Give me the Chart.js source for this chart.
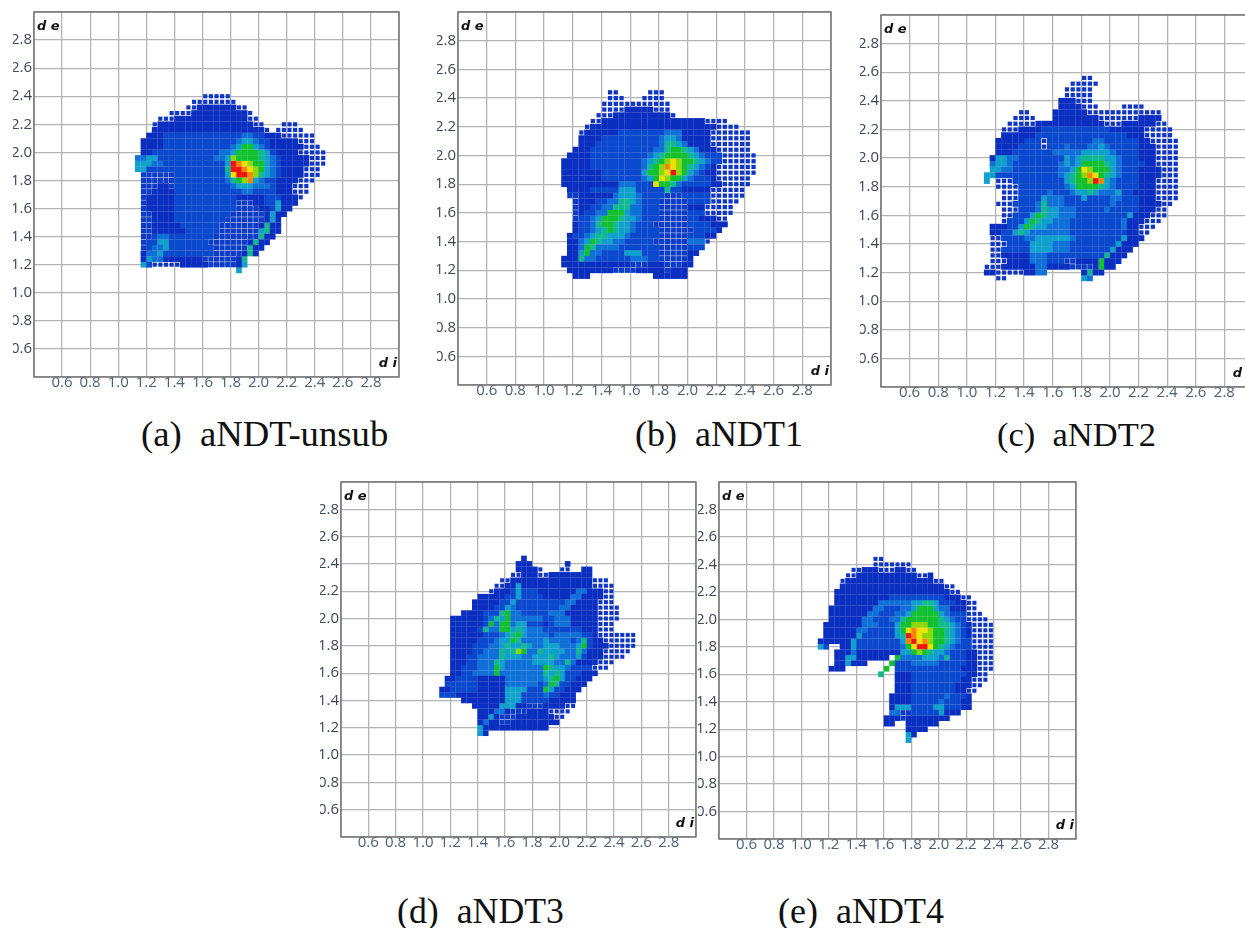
<!DOCTYPE html>
<html>
<head>
<meta charset="utf-8">
<script src="https://cdn.jsdelivr.net/npm/chart.js@4/dist/chart.umd.min.js"></script>
<style>
html,body{margin:0;padding:0;background:#fff;width:1245px;height:928px;overflow:hidden}
canvas{position:absolute;display:block}
.cap{position:absolute;font-family:"Liberation Serif",serif;line-height:40px;color:#111;white-space:pre}
</style>
</head>
<body>
<script>
// Tick labels on both axes
const tickLabels = ["0.6","0.8","1.0","1.2","1.4","1.6","1.8","2.0","2.2","2.4","2.6","2.8"];
const captions = ["(a)  aNDT-unsub","(b)  aNDT1","(c)  aNDT2","(d)  aNDT3","(e)  aNDT4"];
// Density bins. Bin column c = di 1.10 + 0.04c, row index r = de 2.56 - 0.04r.
// Each row: first column, then runs of <level><count>; s = sparse edge, w = speckled interior, . = empty.
const aNDTunsub = ["","","","","13 s5","11 s8","10 s2 07 s2","7 s4 010 s1","5 s3 013 s2","4 s1 017 s2 .3 s3","4 020 s1 .1 s5",
"3 03 114 22 12 03 s6","2 04 113 21 32 21 12 05 s3","2 04 112 21 31 52 31 21 11 06 s3","2 02 112 22 31 54 41 31 11 04 s5",
"1 22 32 110 22 31 61 54 41 31 21 11 05 s3","1 33 22 111 31 91 81 71 61 52 31 21 11 05 s3","1 32 12 112 41 92 81 71 61 51 31 21 11 04 s3",
"2 w6 19 31 71 92 81 61 41 31 21 11 04 s3","2 w6 19 21 41 51 61 81 31 21 12 04 s3","2 w3 02 w1 110 21 33 23 11 03 s3","2 w2 04 112 22 14 03 s3",
"2 w1 05 111 05 13 03 s1","2 w1 05 111 w3 02 12 31 03","2 w1 05 111 w4 02 11 31 02","2 w2 04 110 w6 01 31 02","2 w2 04 19 w7 01 31 01",
"2 w2 05 17 w7 01 41 02","2 w2 06 16 w7 31 41 02","2 w2 11 22 18 w8 41 02","2 w1 12 32 17 w7 01 41 02","2 w1 11 22 31 18 w6 41 02",
"2 01 22 31 19 w5 01 41 01","2 01 31 22 07 w6 01 41","2 31 11 s5 05 w5 01 31","19 31"];
const aNDT1 = ["","","","9 s2 .5 s3","9 s3 .3 s4","8 s12","8 s4 05 s3","7 s3 010 s1","6 s2 018 s4","5 s1 022 s4","4 s1 06 18 23 05 s7",
"4 04 110 21 32 21 05 s7","4 03 111 21 42 31 21 04 s7","3 03 111 22 41 52 41 31 21 03 s6","2 04 110 21 31 41 54 41 31 21 13 s6",
"1 05 19 21 31 41 51 61 71 61 52 41 31 21 12 s6","1 05 19 21 41 51 61 81 71 61 51 41 31 21 11 01 s7","1 07 17 31 52 61 71 91 61 51 31 21 11 02 s7",
"1 07 17 21 31 51 71 61 52 31 21 13 01 s6","1 010 23 13 71 52 41 21 15 02 s5","2 04 15 33 15 41 12 05 s6","2 w2 06 21 33 21 14 w3 15 s6",
"3 w1 03 12 22 42 31 21 13 w5 14 s5","3 w1 02 12 22 43 22 13 w5 03 s5","3 w1 01 12 22 53 31 22 13 w5 13 s5","3 w1 12 21 31 53 41 32 21 13 w5 12 03 s2",
"3 01 12 21 41 52 41 32 21 13 w6 14 03","3 01 12 21 31 41 51 41 32 21 14 w6 14 01","2 01 12 21 31 42 33 21 15 w5 13 02","2 02 21 31 51 41 32 22 15 w6 23 s1",
"2 02 21 51 41 24 17 w5 13","2 02 31 51 22 14 33 13 w5 02","1 03 41 22 16 23 12 w5 01","1 012 w3 03 w3 02","2 08 w4 05 w1 03","3 03 .11 06"];
const aNDT2 = ["18 s2","16 s5","15 s5","15 s5","14 03 s3","14 04 s3 .4 s4","7 s2 .4 06 s13","6 s4 .3 08 s7 04","5 s5 012 s3 06 s2","4 s3 04 112 06 s5","4 06 116 03 s5",
"3 05 13 s1 18 22 16 02 s5","3 04 14 s1 13 21 13 22 31 21 15 03 s4","3 03 17 25 35 21 14 03 s4","2 01 32 22 18 31 21 31 44 32 21 13 03 s4",
"2 21 32 21 18 21 31 21 31 54 41 31 21 14 02 s4","2 32 22 18 22 31 51 71 61 53 31 21 13 04 s3","1 32 111 21 31 41 51 61 81 71 51 41 31 21 13 04 s3",
"1 31 .1 s3 19 31 41 52 61 91 81 31 21 14 03 s4","3 s4 18 21 31 54 41 31 21 14 03 s4","4 s3 15 21 13 21 32 41 31 23 31 12 04 s4",
"4 s3 14 31 23 13 31 14 22 13 03 s4","3 s3 14 21 41 23 18 21 14 04 s2","4 s3 13 21 41 32 23 15 21 15 03 s2","4 s2 13 31 51 41 32 23 19 31 03 s3",
"4 s1 13 31 51 41 32 23 19 21 03 s3","2 03 12 31 51 41 32 24 19 21 02 s3","2 02 12 31 41 31 27 110 02 s2","2 s2 14 22 36 21 18 31 03","2 s3 14 34 23 18 31 03",
"2 s2 15 34 23 17 31 03","2 s2 05 23 14 16 41 03","2 s3 04 23 13 w2 04 51 03","1 s3 06 22 04 w4 01 51 02","1 02 s5 02 22 .6 01 41 02","3 s2 .13 31 21"];
const aNDT3 = ["","","","16 01","15 03 .6 01","15 04 s1 .3 s2 .2 02","14 s2 03 s2 08","12 s2 015 s3","11 s2 02 31 013 s4","10 s1 03 11 31 13 07 22 03 s2",
"8 05 12 31 14 05 22 04 s2","7 05 12 31 19 22 04 s3","7 04 12 31 21 18 22 05 s4","5 04 13 41 51 22 15 23 06 s4","3 06 11 21 41 31 51 26 12 23 05 s4",
"3 06 11 51 21 52 21 32 13 01 11 23 05 s3","3 05 11 41 22 52 31 41 31 23 17 03 s3","3 06 13 21 31 41 51 31 24 11 25 12 01 s7",
"3 05 13 21 32 51 41 24 31 24 11 21 41 11 02 s6","3 04 13 22 31 41 32 41 31 22 33 23 31 51 11 03 s5","3 04 12 23 41 31 41 61 51 22 41 34 22 41 21 03 s5",
"3 03 12 24 41 33 22 33 41 31 23 31 11 03 s4","3 03 12 23 41 31 25 34 22 41 21 04 s3","3 02 13 23 51 31 27 51 41 32 21 14 s3","3 02 12 24 51 28 41 31 41 31 13 03",
"2 02 14 05 27 31 41 51 31 12 03","2 16 05 26 11 21 51 41 12 03","1 02 15 05 34 13 51 31 12 03","1 13 09 33 14 21 12 03","5 08 33 15 05","7 05 33 02 w3 04 s2",
"8 03 22 01 w3 04 s4","8 02 31 01 w3 07 s2","8 01 21 02 w2 09","8 31 012","8 31 01"];
const aNDT4 = ["","","","11 s2","11 s7","7 s2 03 s3 02 s2","6 s2 011 s2 01","5 s1 016 s2","5 019 s2","4 021 s2","4 010 110 03 s2","4 08 26 32 42 31 13 02 s2",
"3 08 22 13 22 31 53 31 22 03 s2","3 07 22 13 22 31 55 31 21 13 s3","3 06 22 13 22 41 56 41 31 21 12 s4","2 07 23 13 31 52 63 52 42 31 21 11 01 s4",
"2 06 22 15 31 51 71 81 72 61 52 41 31 21 11 01 s4","2 06 31 16 31 41 91 81 71 62 52 41 31 21 11 01 s4","1 06 31 18 31 81 91 71 81 61 52 41 31 21 12 s4",
"1 31 11 .2 02 31 18 21 51 71 92 71 51 41 31 21 13 s4","4 03 21 08 32 51 61 51 41 32 21 13 02 s3","4 02 32 06 .1 51 24 33 21 41 13 02 s3",
"4 02 31 03 .4 51 13 25 15 02 s3","3 03 .7 51 .1 112 03 s3","12 41 .2 03 110 02 s2","15 03 19 02 s3","15 03 18 03 s2","15 03 18 02 s2","14 04 16 21 13 01",
"14 04 15 21 13 02","14 01 33 14 32 13 02","14 22 w2 15 31 03","13 03 w1 08","13 02 .2 06","17 04","17 31 01","17 31"];
const levels = ["s","w","0","1","2","3","4","5","6","7","8","9"];
const levelColors = ["#0f35c6","#0c3cc8","#0a2ec0","#0a48cd","#0f70d8","#10a0cc","#12b890","#12c030","#8cd808","#f0e000","#ff8400","#ee1410"];
const levelSizes = [0.72,0.9,1,1,1,1,1,1,1,1,1,1];

// Layout, kept apart from the data
const panels = [
 {rows:aNDTunsub,left:34, top:12, size:365},
 {rows:aNDT1,    left:458,top:12, size:373},
 {rows:aNDT2,    left:881,top:15, size:372},
 {rows:aNDT3,    left:341,top:482,size:355},
 {rows:aNDT4,    left:719,top:482,size:357}
];
const capPos = [[141,414,36.7],[635,414,36],[997,414,34.5],[397,891,35.8],[778,891,36]];

function cellsFor(rows){
  const byLevel = {};
  levels.forEach(l=>byLevel[l]=[]);
  rows.forEach((row,r)=>{
    if(!row) return;
    const toks=row.split(" ");
    let c=parseInt(toks[0]);
    toks.slice(1).forEach(t=>{
      const lv=t[0],n=parseInt(t.slice(1));
      for(let i=0;i<n;i++,c++){
        if(lv!==".") byLevel[lv].push({x:1.10+0.04*c,y:2.56-0.04*r});
      }
    });
  });
  return byLevel;
}
const frame={id:"frame",afterDraw(ch){
  const a=ch.chartArea,g=ch.ctx;
  g.save();
  g.strokeStyle="#6e6e6e";g.lineWidth=1.4;
  g.strokeRect(a.left,a.top,a.right-a.left,a.bottom-a.top);
  g.fillStyle="#111";g.font='italic bold 13px "DejaVu Sans"';
  g.textBaseline="middle";
  g.textAlign="left";g.fillText("d e",a.left+3,a.top+15);
  g.textAlign="right";g.fillText("d i",a.right-2,a.bottom-13);
  g.restore();
}};
function noPad(s){s.paddingTop=0;s.paddingBottom=0;s.paddingLeft=0;s.paddingRight=0;}
panels.forEach(p=>{
  const cv=document.createElement("canvas");
  const w=p.size+21+3,h=p.size+3+18;
  cv.width=w;cv.height=h;
  cv.style.left=(p.left-21)+"px";cv.style.top=(p.top-3)+"px";
  cv.style.width=w+"px";cv.style.height=h+"px";
  document.body.appendChild(cv);
  const cells=cellsFor(p.rows);
  const cellR=p.size/2.6*0.04/Math.SQRT2+0.12;
  const fmt=v=>{const s=Number(v).toFixed(1);return tickLabels.includes(s)?s:"";};
  const grid={color:"#b4b4b8",lineWidth:1.3,drawTicks:false};
  const font={family:'"Open Sans"',size:15};
  new Chart(cv,{
    type:"scatter",
    data:{datasets:levels.map((l,i)=>({
      label:l,data:cells[l],pointStyle:"rect",
      pointRadius:cellR*levelSizes[i],
      pointBackgroundColor:levelColors[i],
      pointBorderWidth:0,pointHoverRadius:0,showLine:false
    }))},
    plugins:[frame],
    options:{
      responsive:false,animation:false,events:[],
      layout:{autoPadding:false,padding:{top:3,right:3,left:0,bottom:0}},
      plugins:{legend:{display:false},tooltip:{enabled:false}},
      scales:{
        x:{type:"linear",min:0.4,max:3.0,
          grid,border:{display:false},
          afterTickToLabelConversion(s){s.ticks.forEach(t=>t.label=fmt(t.value));},
          afterFit(s){s.height=18;noPad(s);},
          ticks:{stepSize:0.2,autoSkip:false,maxRotation:0,minRotation:0,padding:-3,color:"#4a6078",font}},
        y:{type:"linear",min:0.4,max:3.0,
          grid,border:{display:false},
          afterTickToLabelConversion(s){s.ticks.forEach(t=>t.label=fmt(t.value));},
          afterFit(s){s.width=21;noPad(s);},
          ticks:{stepSize:0.2,autoSkip:false,padding:2,color:"#3c4858",font}}
      }
    }
  });
});
captions.forEach((t,i)=>{
  const d=document.createElement("div");
  d.className="cap";d.textContent=t;
  d.style.left=capPos[i][0]+"px";d.style.top=capPos[i][1]+"px";d.style.fontSize=capPos[i][2]+"px";
  document.body.appendChild(d);
});
</script>
</body>
</html>
